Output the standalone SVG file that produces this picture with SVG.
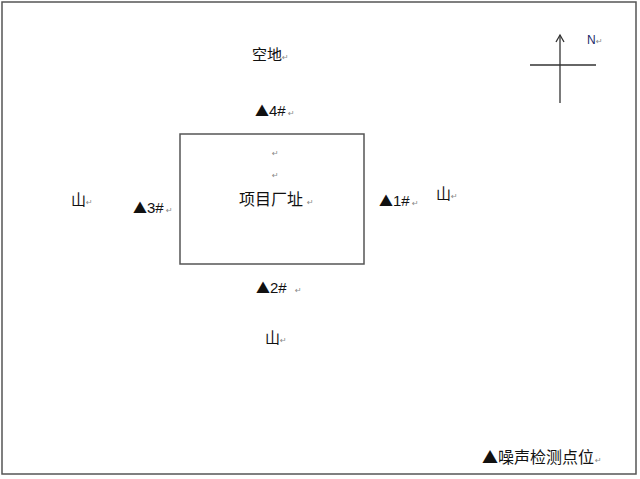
<svg xmlns="http://www.w3.org/2000/svg" width="640" height="479" viewBox="0 0 640 479">
<style>
.cjk{font-family:"Noto Sans CJK SC","DejaVu Sans",sans-serif;font-size:15px;fill:#111}
.lat{font-family:"Liberation Sans",Arial,sans-serif;font-size:15px;fill:#111}
.tri{font-family:"Noto Sans CJK SC","DejaVu Sans",sans-serif;font-size:14px}
.ret{font-family:"DejaVu Sans",sans-serif;font-size:8px;fill:#888}
.ln{stroke:#333;stroke-width:1.3;fill:none}
</style>
<defs>
<marker id="ah" markerWidth="10" markerHeight="10" refX="0" refY="0" viewBox="-8 -5 10 10" orient="auto" markerUnits="userSpaceOnUse"><path d="M-7,-4 L0,0 L-7,4" fill="none" stroke="#333" stroke-width="1.3"/></marker>
</defs>
<rect width="640" height="479" fill="#fff"/>
<rect x="2" y="2" width="634" height="472" fill="none" stroke="#555" stroke-width="1.5"/>
<g id="compass">
<line class="ln" x1="560" y1="103" x2="560" y2="35" marker-end="url(#ah)"/>
<line class="ln" x1="530" y1="65" x2="596" y2="65"/>
<text class="lat" x="587" y="44" style="font-size:12px;fill:#1a2a6a">N</text><text class="ret" x="596" y="44">↵</text>
</g>
<g id="site">
<rect x="180" y="134" width="184" height="130" fill="#fff" stroke="#555" stroke-width="1.5"/>
<text class="ret" x="272" y="156">↵</text>
<text class="ret" x="272" y="178">↵</text>
<text class="cjk" x="239" y="205" style="font-size:16px">项目厂址</text><text class="ret" x="307" y="205">↵</text>
</g>
<g id="empty-land"><text class="cjk" x="252" y="60">空地</text><text class="ret" x="282" y="60">↵</text></g>
<g id="p4"><text class="lat" x="255" y="116"><tspan class="tri">▲</tspan>4#</text><text class="ret" x="288" y="116">↵</text></g>
<g id="mountain-w"><text class="cjk" x="71" y="205">山</text><text class="ret" x="86" y="205">↵</text></g>
<g id="p3"><text class="lat" x="133" y="213"><tspan class="tri">▲</tspan>3#</text><text class="ret" x="166" y="213">↵</text></g>
<g id="p1"><text class="lat" x="379" y="206"><tspan class="tri">▲</tspan>1#</text><text class="ret" x="412" y="206">↵</text></g>
<g id="mountain-e"><text class="cjk" x="436" y="199">山</text><text class="ret" x="451" y="199">↵</text></g>
<g id="p2"><text class="lat" x="256" y="293"><tspan class="tri">▲</tspan>2#</text><text class="ret" x="295" y="293">↵</text></g>
<g id="mountain-s"><text class="cjk" x="265" y="343">山</text><text class="ret" x="280" y="343">↵</text></g>
<g id="legend"><text class="cjk" x="482" y="463" style="font-size:16px">▲噪声检测点位</text><text class="ret" x="595" y="463">↵</text></g>
</svg>
